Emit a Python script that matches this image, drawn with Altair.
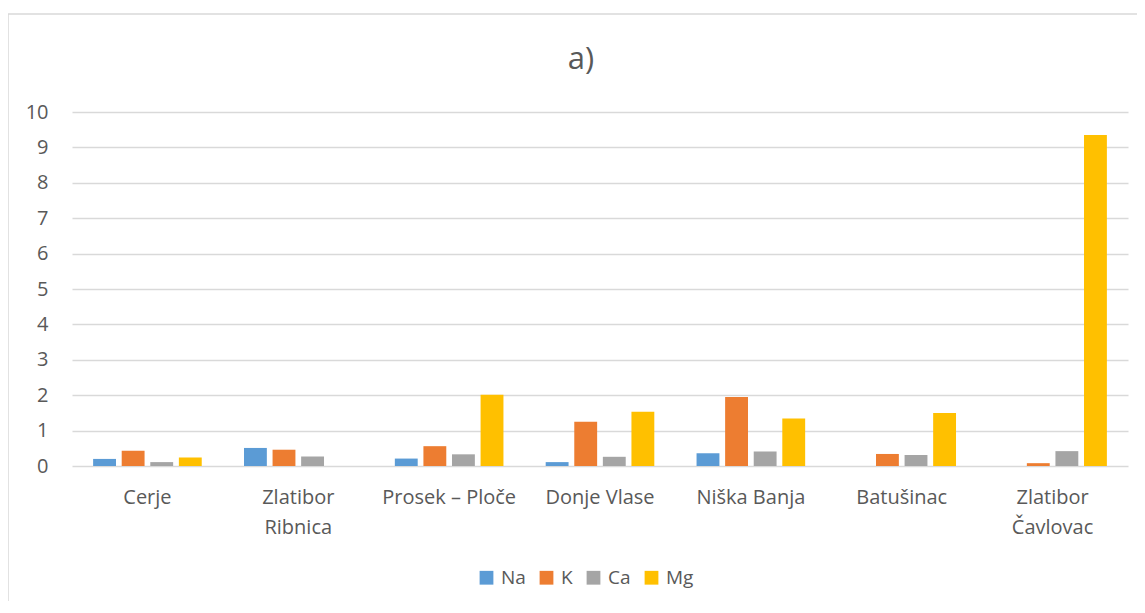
import altair as alt
import pandas as pd

sites = ["Cerje", "Zlatibor|Ribnica", "Prosek – Ploče", "Donje Vlase",
         "Niška Banja", "Batušinac", "Zlatibor|Čavlovac"]
series = ["Na", "K", "Ca", "Mg"]
na = [0.20, 0.51, 0.21, 0.11, 0.36, 0.0, 0.0]
k = [0.43, 0.46, 0.56, 1.25, 1.95, 0.34, 0.08]
ca = [0.11, 0.27, 0.33, 0.26, 0.41, 0.31, 0.42]
mg = [0.24, 0.0, 2.01, 1.53, 1.34, 1.50, 9.35]
colors = ["#5B9BD5", "#ED7D31", "#A5A5A5", "#FFC000"]
y_ticks = list(range(0, 11))
title_text = "a)"

rows = []
for name, vals in zip(series, [na, k, ca, mg]):
    for s, v in zip(sites, vals):
        rows.append({"site": s, "element": name, "value": v})
df = pd.DataFrame(rows)

FONT = "Open Sans"
TXT = "#595959"

bars = alt.Chart(df).mark_bar().encode(
    x=alt.X("site:N", sort=sites,
            scale=alt.Scale(paddingInner=0.28, paddingOuter=0.14),
            axis=alt.Axis(title=None, labelAngle=0, ticks=False, domain=False,
                          labelExpr="split(datum.label, '|')",
                          labelFontSize=20, labelColor=TXT, labelFont=FONT,
                          labelPadding=21, labelLineHeight=30)),
    xOffset=alt.XOffset("element:N", sort=series,
                        scale=alt.Scale(paddingInner=0.2, paddingOuter=0)),
    y=alt.Y("value:Q", scale=alt.Scale(domain=[0, 10], nice=False),
            axis=alt.Axis(title=None, values=y_ticks, ticks=False, domain=False,
                          grid=True, gridColor="#D9D9D9", gridWidth=1.3,
                          labelFontSize=20, labelColor=TXT, labelFont=FONT,
                          labelPadding=24)),
    color=alt.Color("element:N", sort=series,
                    scale=alt.Scale(domain=series, range=colors),
                    legend=alt.Legend(title=None, orient="none", direction="horizontal",
                                      legendX=405, legendY=456, symbolType="square",
                                      symbolSize=190, symbolStrokeWidth=0,
                                      labelFontSize=19, labelColor=TXT, labelFont=FONT,
                                      columnPadding=11, labelOffset=5, padding=0)),
)

edge = pd.DataFrame({"t": [title_text]})
top_line = alt.Chart(edge).mark_rule(color="#D9D9D9", strokeWidth=1.5).encode(
    x=alt.value(-64), x2=alt.value(1070), y=alt.value(-98))
left_line = alt.Chart(edge).mark_rule(color="#D9D9D9", strokeWidth=1.5).encode(
    x=alt.value(-64), y=alt.value(-98), y2=alt.value(500))
title = alt.Chart(edge).mark_text(fontSize=31, font=FONT, color=TXT,
                                  align="center", baseline="middle").encode(
    text="t:N", x=alt.value(509), y=alt.value(-52))

chart = alt.layer(bars, top_line, left_line, title).properties(
    width=1056, height=354,
    autosize=alt.AutoSizeParams(type="none"),
    padding={"left": 64, "top": 104, "right": 9, "bottom": 135},
).configure_view(stroke=None)

chart.save("out.html", embed_options={"renderer": "svg", "actions": False})
